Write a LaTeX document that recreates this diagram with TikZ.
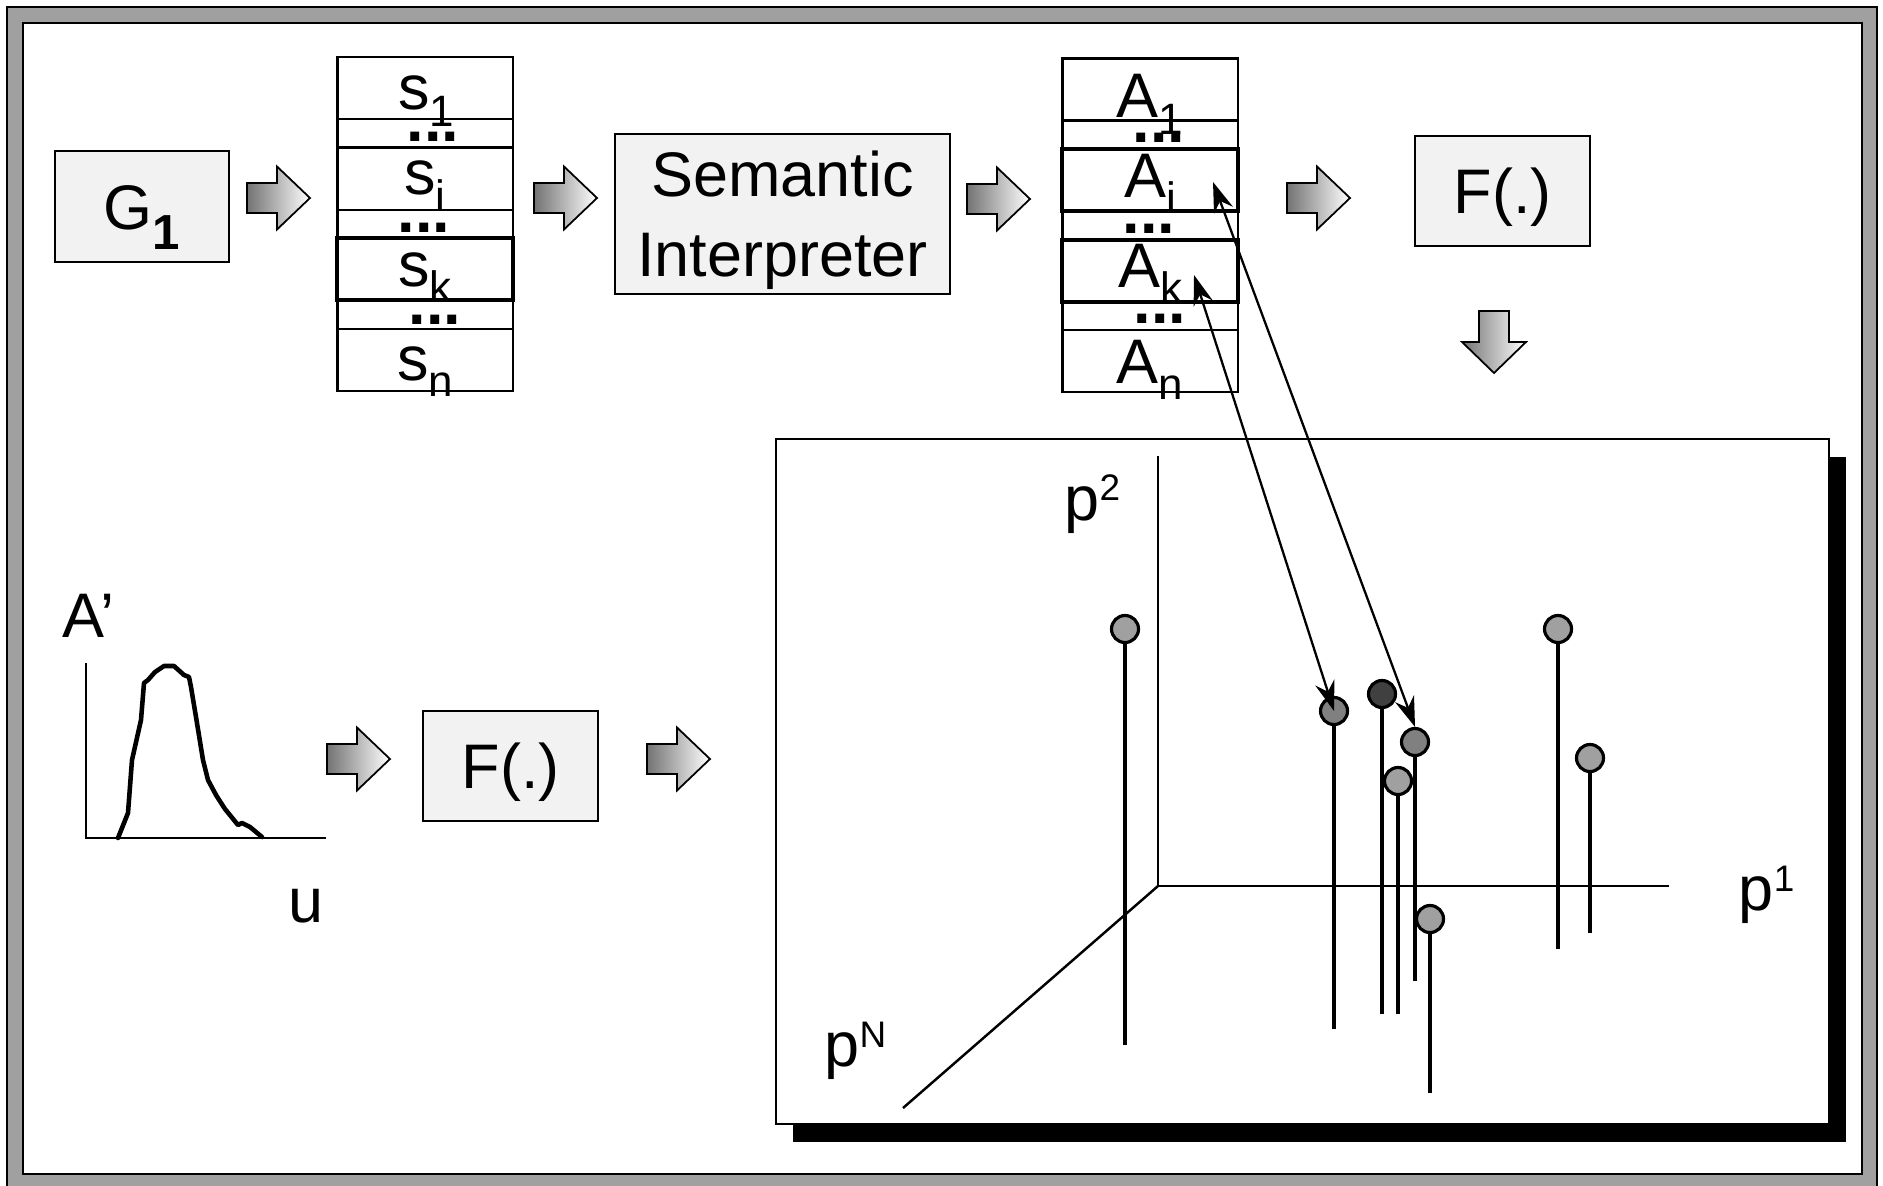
\documentclass[tikz,border=0pt]{standalone}
\usepackage{fontspec}
\setmainfont{Liberation Sans}
\usepackage{xcolor}
\usetikzlibrary{positioning,arrows.meta}
\definecolor{boxgray}{HTML}{F2F2F2}
\definecolor{framegray}{HTML}{A0A0A0}
\definecolor{balllight}{HTML}{A0A0A0}
\definecolor{ballmid}{HTML}{808080}
\definecolor{balldark}{HTML}{404040}
\newcommand{\pfont}{\fontsize{17.9pt}{22.8pt}\selectfont}
\newcommand{\lowidx}[1]{\raisebox{-0.16cm}{\fontsize{12.5pt}{12.5pt}\selectfont #1}}
\newcommand{\highidx}[1]{\raisebox{0.19cm}{\fontsize{10.5pt}{10.5pt}\selectfont #1}}
\newcommand{\rarrow}[2]{\path[barrow] (#1,#2) ++(-31.5,-15) -- ++(30,0) -- ++(0,-16.5) -- ++(33,31.5) -- ++(-33,31.5) -- ++(0,-16.5) -- ++(-30,0) -- cycle;}

\begin{document}
\begin{tikzpicture}[
  x=0.01cm, y=-0.01cm,
  font=\pfont,
  box/.style={draw, line width=0.6pt, fill=boxgray, align=center, inner sep=0pt, text height=0.45cm, text depth=0cm},
  cell/.style={draw, line width=0.6pt, minimum width=1.75cm, minimum height=0.62cm, inner sep=0pt, outer sep=0pt},
  gap/.style={cell, minimum height=0.285cm},
  hot/.style={cell, line width=1.15pt},
  lbl/.style={anchor=base, inner sep=0pt},
  dots/.style={lbl, font=\pfont\bfseries},
  axlbl/.style={anchor=base west, inner sep=0pt},
  barrow/.style={draw, line width=0.5pt, left color=black!55, right color=white},
  ball/.style={circle, draw, line width=0.9pt, minimum size=0.27cm, inner sep=0pt, fill=balllight},
  stem/.style={line width=0.9pt},
  axis/.style={line width=0.7pt},
  link/.style={{Stealth[length=3mm,width=2mm]}-{Stealth[length=3mm,width=2mm]}, line width=0.65pt}]
  \useasboundingbox (0,0) rectangle (1883,1185);
  \clip (0,0) rectangle (1883,1185);
  \draw[fill=framegray, line width=0.4pt] (7,7) rectangle (1877,1195);
  \draw[fill=white, line width=0.7pt] (23,23) rectangle (1862,1174);

  \node[box, minimum width=1.74cm, minimum height=1.11cm] (g1) at (142,206.5) {G\raisebox{-0.2cm}{\fontsize{14pt}{14pt}\selectfont\bfseries 1}};
  \rarrow{278.5}{198}

  \node[cell] (s1) at (425,88) {};
  \node[gap, below=0pt of s1] (sg1) {};
  \node[cell, below=0pt of sg1] (si) {};
  \node[gap, below=0pt of si] (sg2) {};
  \node[hot, below=0pt of sg2] (sk) {};
  \node[gap, below=0pt of sk] (sg3) {};
  \node[cell, below=0pt of sg3] (sn) {};
  \node[lbl] (ls1) at (426,110) {s\lowidx{1}};
  \node[lbl] (lsi) at (425,195) {s\lowidx{i}};
  \node[lbl] (lsk) at (425,286) {s\lowidx{k}};
  \node[lbl] (lsn) at (425,380) {s\lowidx{n}};
  \node[dots] (ds1) at (433,142) {...};
  \node[dots] (ds2) at (424,232) {...};
  \node[dots] (ds3) at (435,324) {...};
  \rarrow{565.5}{198}

  \node[box, minimum width=3.35cm, minimum height=1.6cm, text height=1.25cm] (sem) at (782.5,214) {Semantic\\Interpreter};
  \rarrow{998.5}{199}

  \node[cell] (a1) at (1150,89.5) {};
  \node[gap, below=0pt of a1] (ag1) {};
  \node[hot, below=0pt of ag1] (ai) {};
  \node[gap, below=0pt of ai] (ag2) {};
  \node[hot, below=0pt of ag2] (ak) {};
  \node[gap, below=0pt of ak] (ag3) {};
  \node[cell, below=0pt of ag3] (an) {};
  \node[lbl] (la1) at (1150,118) {A\lowidx{1}};
  \node[lbl] (lai) at (1150,197) {A\lowidx{i}};
  \node[lbl] (lak) at (1150,287) {A\lowidx{k}};
  \node[lbl] (lan) at (1150,383) {A\lowidx{n}};
  \node[dots] (da1) at (1159,143) {...};
  \node[dots] (da2) at (1149,233) {...};
  \node[dots] (da3) at (1160,323) {...};
  \rarrow{1318.5}{198}

  \node[box, minimum width=1.75cm, minimum height=1.1cm] (f1) at (1502.5,191) {F(.)};
  \path[barrow] (1494,311) ++(-15,0) -- ++(30,0) -- ++(0,31) -- ++(17,0) -- ++(-32,31) -- ++(-32,-31) -- ++(17,0) -- cycle;

  \node[axlbl] (aprime) at (62,637) {A’};
  \node[axlbl] (ulbl) at (288,922) {u};
  \draw[axis] (86,663) -- (86,838) -- (326,838);
  \draw[line width=1.3pt, line join=round, line cap=round] (118,838) -- (128,813) -- (132,760) -- (141,720) -- (144,683) -- (148,680) -- (155,672) -- (164,666) -- (174,666) -- (184,675) -- (189,677) -- (191,687) -- (196,717) -- (203,760) -- (208,780) -- (216,795) -- (225,809) -- (238,825) -- (242,823) -- (250,827) -- (262,837);
  \rarrow{358.5}{759}
  \node[box, minimum width=1.75cm, minimum height=1.1cm] (f2) at (510.5,766) {F(.)};
  \rarrow{678.5}{759}

  \fill (793,457) rectangle (1846,1142);
  \node[draw, fill=white, line width=0.5pt, minimum width=10.53cm, minimum height=6.85cm, inner sep=0pt] (plot) at (1302.5,781.5) {};
  \coordinate (o) at (1158,886);
  \coordinate (p2end) at (1158,456);
  \coordinate (p1end) at (1669,886);
  \coordinate (pNend) at (903,1108);
  \draw[axis] (o) -- (p2end);
  \draw[axis] (o) -- (p1end);
  \draw[axis] (o) -- (pNend);
  \node[axlbl] (p2) at (1064,520) {p\highidx{2}};
  \node[axlbl] (p1) at (1738,910) {p\highidx{1}};
  \node[axlbl] (pN) at (824,1066) {p\highidx{N}};

  \node[ball] (b1) at (1125,629) {};
  \node[ball, fill=ballmid] (b2) at (1334,711) {};
  \node[ball, fill=balldark] (b3) at (1382,694) {};
  \node[ball, fill=ballmid] (b4) at (1415,742) {};
  \node[ball] (b5) at (1398,781) {};
  \node[ball] (b6) at (1430,919) {};
  \node[ball] (b7) at (1558,629) {};
  \node[ball] (b8) at (1590,758) {};
  \draw[stem] (b1.south) -- ++(0,401);
  \draw[stem] (b2.south) -- ++(0,303);
  \draw[stem] (b3.south) -- ++(0,305);
  \draw[stem] (b4.south) -- ++(0,224);
  \draw[stem] (b5.south) -- ++(0,218);
  \draw[stem] (b6.south) -- ++(0,159);
  \draw[stem] (b7.south) -- ++(0,305);
  \draw[stem] (b8.south) -- ++(0,160);

  \coordinate (ktip) at (1194,275);
  \coordinate (itip) at (1213,182);
  \draw[link] (ktip) -- (b2.center);
  \draw[link] (itip) -- (b4.north);
\end{tikzpicture}
\end{document}
